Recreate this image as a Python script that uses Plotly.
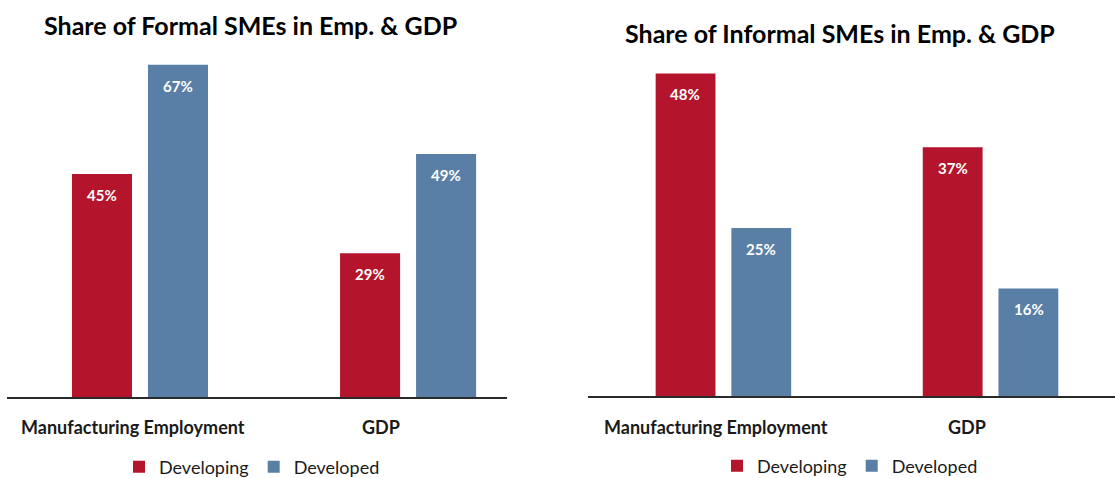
import plotly.graph_objects as go

# Data
categories = ["Manufacturing Employment", "GDP"]
formal_developing = [45, 29]
formal_developed = [67, 49]
informal_developing = [48, 37]
informal_developed = [25, 16]
series_names = ["Developing", "Developed"]
titles = ["Share of Formal SMEs in Emp. & GDP", "Share of Informal SMEs in Emp. & GDP"]

RED = "#B4152C"
BLUE = "#5A7FA7"
FONT = "Lato"

W, H = 1115, 478

fig = go.Figure()

panels = [
    dict(dev=formal_developing, devd=formal_developed, xa="x", ya="y", legend="legend"),
    dict(dev=informal_developing, devd=informal_developed, xa="x2", ya="y2", legend="legend2"),
]

for p in panels:
    for name, vals, color in [(series_names[0], p["dev"], RED), (series_names[1], p["devd"], BLUE)]:
        fig.add_trace(go.Bar(
            x=categories, y=vals, name=name, marker=dict(color=color, line=dict(width=0)),
            xaxis=p["xa"], yaxis=p["ya"], legend=p["legend"], hoverinfo="skip",
        ))
        # value labels inside the top of each bar
        for i, v in enumerate(vals):
            fig.add_annotation(
                x=categories[i], y=v, xref=p["xa"], yref=p["ya"], text=f"<b>{v}%</b>",
                showarrow=False, yshift=-21, xshift=(-38 if name == series_names[0] else 38),
                xanchor="center", yanchor="middle",
                font=dict(family=FONT, size=15, color="white"),
            )

# category labels under the axis line
label_shift = [(-7, -27), (-7, -24)]
for k, p in enumerate(panels):
    for i, c in enumerate(categories):
        fig.add_annotation(
            x=c, xref=p["xa"], y=(H - 427) / H, yref="paper", text=f"<b>{c}</b>",
            showarrow=False, xshift=label_shift[k][i], xanchor="center", yanchor="middle",
            font=dict(family=FONT, size=18, color="#1a1a1a"),
        )

# panel titles
fig.add_annotation(x=250 / W, y=1 - 25 / H, xref="paper", yref="paper", text=f"<b>{titles[0]}</b>",
                   showarrow=False, xanchor="center", yanchor="middle",
                   font=dict(family=FONT, size=25, color="black"))
fig.add_annotation(x=840 / W, y=1 - 33 / H, xref="paper", yref="paper", text=f"<b>{titles[1]}</b>",
                   showarrow=False, xanchor="center", yanchor="middle",
                   font=dict(family=FONT, size=25, color="black"))

axis_common = dict(showgrid=False, zeroline=False, showticklabels=False, ticks="",
                   showline=True, linecolor="#2a2a2a", linewidth=1.5, type="category")
yaxis_common = dict(showgrid=False, zeroline=False, showticklabels=False, showline=False, ticks="")

legend_common = dict(orientation="h", xanchor="center", yanchor="middle", bgcolor="rgba(0,0,0,0)",
                     font=dict(family=FONT, size=18, color="#1a1a1a"), itemwidth=30,
                     traceorder="normal")

fig.update_layout(
    width=W, height=H, margin=dict(l=0, r=0, t=0, b=0, autoexpand=False),
    paper_bgcolor="white", plot_bgcolor="white",
    barmode="group", bargap=0.433, bargroupgap=0.21,
    xaxis=dict(domain=[7 / W, 507 / W], range=[-0.496, 1.369], anchor="y", **axis_common),
    yaxis=dict(domain=[81 / H, 428 / H], range=[0, 70], anchor="x", **yaxis_common),
    xaxis2=dict(domain=[588 / W, 1.0], range=[-0.507, 1.466], anchor="y2", **axis_common),
    yaxis2=dict(domain=[82 / H, 418 / H], range=[0, 50], anchor="x2", **yaxis_common),
    legend=dict(x=252 / W, y=11 / H, **legend_common),
    legend2=dict(x=850 / W, y=12 / H, **legend_common),
    showlegend=True,
)

fig.write_html("out.html")
